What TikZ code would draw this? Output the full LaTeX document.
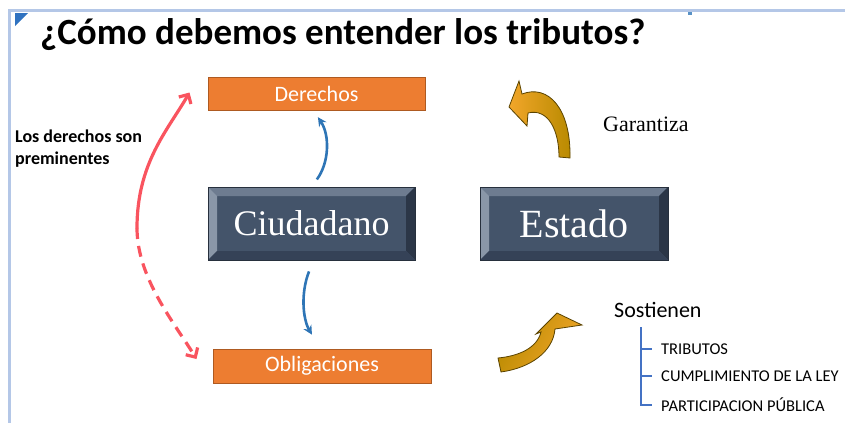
\documentclass[tikz,border=0pt]{standalone}
\usepackage{fontspec}
\usetikzlibrary{arrows.meta,calc}
\newfontfamily\carlito{Carlito}
\newfontfamily\tserif{Liberation Serif}
\definecolor{frameblue}{HTML}{B4C7E7}
\definecolor{cornerblue}{HTML}{2F72C0}
\definecolor{orfill}{HTML}{ED7D31}
\definecolor{ordraw}{HTML}{AE5A21}
\definecolor{bvface}{HTML}{44546A}
\definecolor{bvtop}{HTML}{6E7C90}
\definecolor{bvleft}{HTML}{8A97A8}
\definecolor{bvright}{HTML}{2B3647}
\definecolor{bvbottom}{HTML}{354257}
\definecolor{bvline}{HTML}{27303D}
\definecolor{arrblue}{HTML}{2E75B6}
\definecolor{arrred}{HTML}{F9545F}
\definecolor{bracketblue}{HTML}{4472C4}
\definecolor{goldA}{HTML}{F2A62A}
\definecolor{goldB}{HTML}{B88A00}
\definecolor{goldline}{HTML}{5A4300}
\def\pb{path picture bounding box}
\tikzset{
  orbox/.style={draw=ordraw, line width=1pt, fill=orfill, inner sep=0pt,
    text=white, font=\carlito\fontsize{22}{26}\selectfont},
  bevelbox/.style={inner sep=0pt, fill=bvface, draw=bvline, line width=0.6pt,
    text=white, path picture={
      \fill[bvtop] (\pb.north west) -- (\pb.north east) -- ([shift={(-9pt,-9pt)}]\pb.north east) -- ([shift={(9pt,-9pt)}]\pb.north west) -- cycle;
      \fill[bvleft] (\pb.north west) -- ([shift={(9pt,-9pt)}]\pb.north west) -- ([shift={(9pt,9pt)}]\pb.south west) -- (\pb.south west) -- cycle;
      \fill[bvright] (\pb.north east) -- ([shift={(-9pt,-9pt)}]\pb.north east) -- ([shift={(-9pt,9pt)}]\pb.south east) -- (\pb.south east) -- cycle;
      \fill[bvbottom] (\pb.south west) -- ([shift={(9pt,9pt)}]\pb.south west) -- ([shift={(-9pt,9pt)}]\pb.south east) -- (\pb.south east) -- cycle;
    }},
  bluearr/.style={draw=arrblue, line width=2.6pt, -{Stealth[length=9pt,width=9pt]}},
  redarr/.style={draw=arrred, line width=3.2pt, -{Straight Barb[length=7pt,width=14pt,line width=3.2pt]}},
  golden/.style={left color=goldA, right color=goldB, draw=goldline, line width=0.8pt},
  brack/.style={draw=bracketblue, line width=1.5pt},
  item/.style={inner sep=0pt, anchor=west, font=\carlito\fontsize{16.5}{19}\selectfont}
}
\begin{document}
\begin{tikzpicture}[x=1pt,y=1pt]
\useasboundingbox (0,0) rectangle (845,-423);
% frame
\fill[frameblue] (8,-8.5) rectangle (845,-11.5);
\fill[frameblue] (8,-8.5) rectangle (11,-423);
\fill[cornerblue] (15,-13) -- (28,-13) -- (15,-26) -- cycle;
\fill[arrblue!80] (688,-12) rectangle (692,-14.5);
% title
\node[anchor=west, inner sep=0pt, font=\carlito\bfseries\fontsize{37}{42}\selectfont] (title) at (40,-35) {¿Cómo debemos entender los tributos?};
% boxes
\node[orbox, minimum width=217pt, minimum height=33pt] (der) at (316.5,-93.5) {Derechos};
\node[orbox, minimum width=218pt, minimum height=34pt] (obl) at (322,-366) {Obligaciones};
\node[bevelbox, minimum width=207pt, minimum height=73pt, font=\tserif\fontsize{36}{40}\selectfont] (ciud) at (311.5,-223.5) {Ciudadano};
\node[bevelbox, minimum width=188pt, minimum height=73pt, font=\tserif\fontsize{40}{44}\selectfont] (est) at (574,-223.5) {Estado};
% blue arrows
\draw[bluearr, shorten <=9pt, shorten >=8pt] ([xshift=0pt]ciud.north) to[bend right=35] ([xshift=-3pt]der.south);
\draw[bluearr, shorten <=12pt, shorten >=16pt] ([xshift=2pt]ciud.south) to[bend right=26] ([xshift=-2pt]obl.north);
% red arrows
\coordinate (mid) at (137,-228);
\draw[redarr, line cap=round] (mid) .. controls +(0,65) and +(-22,-38) .. ([xshift=-18pt,yshift=1pt]der.west);
\draw[redarr, dash pattern=on 11pt off 7pt] (mid) .. controls +(0,-50) and +(-22,36) .. ([xshift=-16pt,yshift=7pt]obl.west);
\node[anchor=north west, inner sep=0pt, align=left, font=\carlito\bfseries\fontsize{18}{22}\selectfont] (lbl) at (15,-130) {Los derechos son\\preminentes};
% gold arrows
\shadedraw[golden, shading angle=90] (509,-107) -- (519,-81) -- (522,-94) .. controls (548,-84) and (571,-108) .. (570,-158) -- (559,-157) .. controls (559,-130) and (548,-108) .. (528,-113) -- (527,-126) -- cycle;
\shadedraw[golden, left color=goldB, right color=goldA, shading angle=60] (557,-313) -- (582,-325) -- (555,-329) .. controls (553,-352) and (530,-368) .. (501,-372) -- (498,-358) .. controls (519,-356) and (537,-348) .. (541,-332) -- (536,-334) -- cycle;
\node[anchor=west, inner sep=0pt, font=\tserif\fontsize{22}{26}\selectfont] (gar) at (603,-124) {Garantiza};
% sostienen
\node[anchor=west, inner sep=0pt, font=\carlito\fontsize{22}{26}\selectfont] (sost) at (614,-310) {Sostienen};
\node[item] (trib) at (661,-349) {TRIBUTOS};
\node[item] (cump) at (661,-376) {CUMPLIMIENTO DE LA LEY};
\node[item] (part) at (661,-405) {PARTICIPACION PÚBLICA};
\coordinate (bt) at (641,-327);
\draw[brack] (bt) |- ([xshift=-9pt]trib.west);
\draw[brack] (bt) |- ([xshift=-9pt]cump.west);
\draw[brack] (bt) |- ([xshift=-9pt]part.west);
\end{tikzpicture}
\end{document}
